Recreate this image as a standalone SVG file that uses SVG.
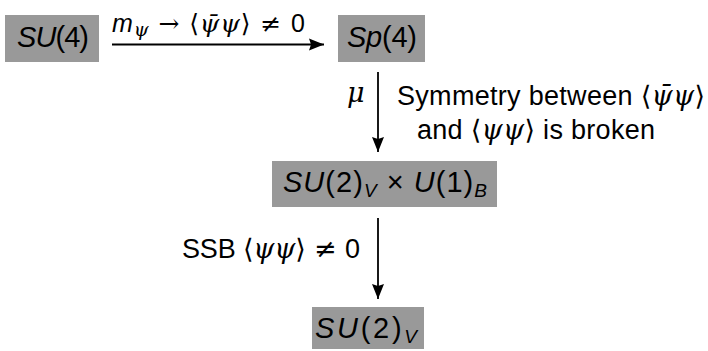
<svg xmlns="http://www.w3.org/2000/svg" width="708" height="351" viewBox="0 0 708 351">
<style>
.box{fill:#999999;stroke:none}
.t{font-family:"Liberation Sans","DejaVu Sans",sans-serif;fill:#000}
.big{font-size:29px}
.lab{font-size:27px}
.top{font-size:25px}
.it{font-style:italic}
.m{font-family:"DejaVu Serif","Liberation Serif",serif;font-style:italic}
.ms{font-family:"DejaVu Serif","Liberation Serif",serif}
.sub{font-size:19px}
.conn{stroke:#000;stroke-width:1.8;fill:none}
</style>
<defs>
<marker id="ah" markerUnits="userSpaceOnUse" markerWidth="16" markerHeight="14" refX="15" refY="7" orient="auto">
<path d="M0,1 L15,7 L0,13 L2,7 z" fill="#000"/>
</marker>
</defs>
<g id="n-su4">
<rect class="box" x="5" y="15" width="94" height="47"/>
<text class="t big" x="17" y="47" textLength="72" lengthAdjust="spacing"><tspan class="it">SU</tspan>(4)</text>
</g>
<g id="n-sp4">
<rect class="box" x="338" y="15" width="87" height="47"/>
<text class="t big" x="347" y="47" textLength="70" lengthAdjust="spacing"><tspan class="it">Sp</tspan>(4)</text>
</g>
<g id="n-su2u1">
<rect class="box" x="272" y="161" width="225" height="46"/>
<text class="t big" x="283" y="192" textLength="204" lengthAdjust="spacing"><tspan class="it">SU</tspan>(2)<tspan class="it sub" dy="5">V</tspan><tspan dy="-5"> × </tspan><tspan class="it">U</tspan>(1)<tspan class="it sub" dy="5">B</tspan></text>
</g>
<g id="n-su2">
<rect class="box" x="312" y="307" width="112" height="42"/>
<text class="t big" x="315" y="338" textLength="102" lengthAdjust="spacing"><tspan class="it">SU</tspan>(2)<tspan class="it sub" dy="5">V</tspan></text>
</g>
<g id="connectors">
<line class="conn" x1="112" y1="44.5" x2="324" y2="44.5" marker-end="url(#ah)"/>
<line class="conn" x1="378" y1="72" x2="378" y2="152" marker-end="url(#ah)"/>
<line class="conn" x1="378" y1="218" x2="378" y2="299" marker-end="url(#ah)"/>
<text class="t top" x="112" y="32" textLength="193" lengthAdjust="spacing"><tspan class="it">m</tspan><tspan class="m sub" dy="4">ψ</tspan><tspan class="ms" dy="-4"> → ⟨</tspan><tspan class="m">ψ̄ψ</tspan><tspan class="ms">⟩ ≠ </tspan>0</text>
<text class="t lab" x="347" y="102"><tspan class="m">μ</tspan></text>
<text class="t lab" x="397" y="105" textLength="308" lengthAdjust="spacing">Symmetry between <tspan class="ms">⟨</tspan><tspan class="m">ψ̄ψ</tspan><tspan class="ms">⟩</tspan></text>
<text class="t lab" x="417" y="139" textLength="238" lengthAdjust="spacing">and <tspan class="ms">⟨</tspan><tspan class="m">ψψ</tspan><tspan class="ms">⟩</tspan> is broken</text>
<text class="t lab" x="182" y="258" textLength="178" lengthAdjust="spacing">SSB <tspan class="ms">⟨</tspan><tspan class="m">ψψ</tspan><tspan class="ms">⟩ ≠ </tspan>0</text>
</g>
</svg>
